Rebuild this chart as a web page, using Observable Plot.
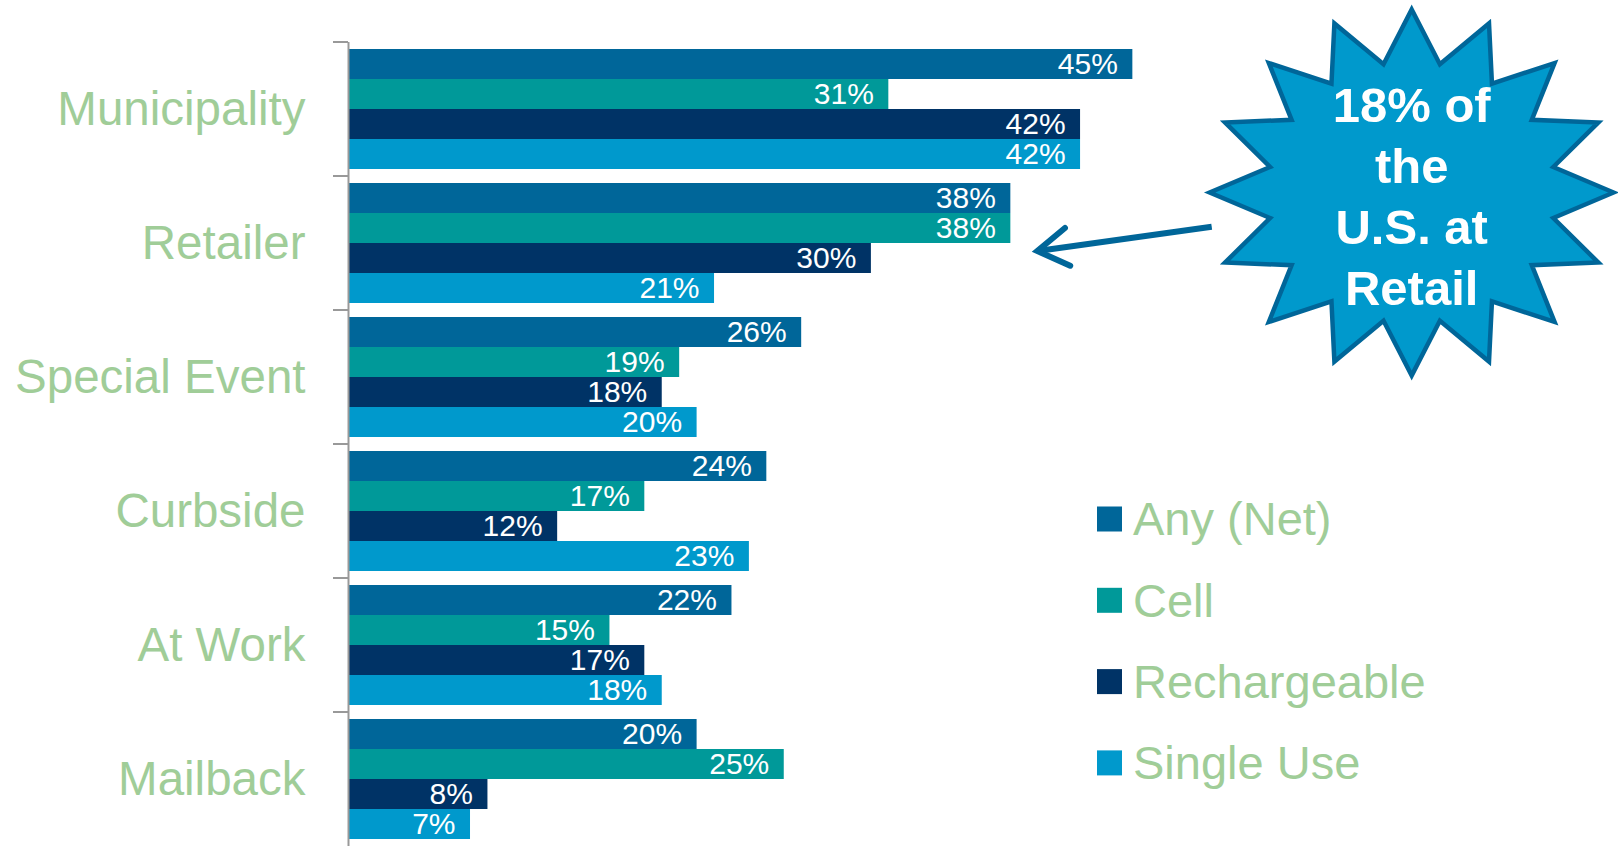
<!DOCTYPE html>
<html>
<head>
<meta charset="utf-8">
<script src="https://cdn.jsdelivr.net/npm/d3@7"></script>
<script src="https://cdn.jsdelivr.net/npm/@observablehq/plot@0.6"></script>
<style>
  html, body { margin: 0; padding: 0; background: #ffffff; overflow: hidden; }
  #chart svg { display: block; }
</style>
</head>
<body>
<div id="chart"></div>
<script>
// ---- data ----
const groups = ["Municipality", "Retailer", "Special Event", "Curbside", "At Work", "Mailback"];
const series = ["Any (Net)", "Cell", "Rechargeable", "Single Use"];
const anyNet = [45, 38, 26, 24, 22, 20];
const cell = [31, 38, 19, 17, 15, 25];
const rechargeable = [42, 30, 18, 12, 17, 8];
const singleUse = [42, 21, 20, 23, 18, 7];
const colors = ["#006699", "#009999", "#003366", "#0099cc"];
const calloutLines = ["18% of", "the", "U.S. at", "Retail"];
const calloutTarget = {group: "Retailer", value: 38};

const green = "#a0cd98";
const font = "'Liberation Sans', Arial, Helvetica, sans-serif";
const valuesBySeries = [anyNet, cell, rechargeable, singleUse];
const rows = groups.flatMap((g, i) => series.map((s, j) => ({group: g, series: s, value: valuesBySeries[j][i]})));

const W = 1618, H = 847;
const plot = Plot.plot({
  width: W,
  height: H,
  marginLeft: 348,
  marginRight: 398.5,
  marginTop: 41,
  marginBottom: 0,
  style: {fontFamily: font, background: "#ffffff", overflow: "visible"},
  x: {domain: [0, 50], axis: null},
  y: {domain: series, axis: null, paddingInner: 0, paddingOuter: 0.19},
  fy: {domain: groups, axis: null, padding: 0},
  color: {domain: series, range: colors},
  facet: {data: rows, y: "group"},
  marks: [
    Plot.barX(rows, {y: "series", x: "value", fill: "series"}),
    Plot.text(rows, {y: "series", x: "value", text: d => d.value + "%", textAnchor: "end", dx: -15, fill: "#ffffff", fontSize: 30}),
    Plot.text(rows, {filter: d => d.series === series[0], text: "group", frameAnchor: "left", textAnchor: "end", dx: -43, fontSize: 47.5, fill: green}),
    Plot.ruleX([0], {stroke: "#999999", strokeWidth: 2})
  ]
});
document.getElementById("chart").appendChild(plot);

const svg = d3.select(plot);
const xs = plot.scale("x");
let fyTop, fyBand;
const fys = plot.scale("fy");
if (fys && fys.apply) {
  fyTop = g => fys.apply(g);
  fyBand = fys.bandwidth;
} else {
  fyBand = (H - 41) / groups.length;
  fyTop = g => 41 + groups.indexOf(g) * fyBand;
}
const x0 = xs.apply(0);

// category boundary ticks on the axis
svg.append("g").selectAll("line").data(groups).join("line")
  .attr("x1", x0 - 15).attr("x2", x0)
  .attr("y1", d => fyTop(d)).attr("y2", d => fyTop(d))
  .attr("stroke", "#999999").attr("stroke-width", 2);

// legend
const lg = svg.append("g").attr("text-anchor", "start");
series.forEach((s, i) => {
  const cy = 519 + i * 81.3;
  lg.append("rect").attr("x", 1097).attr("y", cy - 12.5).attr("width", 25).attr("height", 25)
    .attr("fill", colors[i]);
  lg.append("text").attr("x", 1133).attr("y", cy).attr("dy", "0.35em").attr("text-anchor", "start")
    .attr("font-size", 47).attr("fill", green).attr("font-family", font).text(s);
});

// starburst callout
const cx = 1411.7, cy = 192.5, rx = 202, ry = 183, inner = 0.715, nPts = 16;
const pts = d3.range(nPts * 2).map(i => {
  const a = (-90 + i * 180 / nPts) * Math.PI / 180;
  const r = i % 2 === 0 ? 1 : inner;
  return [cx + rx * r * Math.cos(a), cy + ry * r * Math.sin(a)];
});
svg.append("polygon").attr("points", pts.map(p => p.join(",")).join(" "))
  .attr("fill", "#0099cc").attr("stroke", "#006699").attr("stroke-width", 4.5)
  .attr("stroke-linejoin", "miter").attr("stroke-miterlimit", 10);
const st = svg.append("g").attr("font-family", font).attr("font-weight", "bold")
  .attr("font-size", 49).attr("fill", "#ffffff").attr("text-anchor", "middle");
calloutLines.forEach((t, i) => {
  st.append("text").attr("x", cx).attr("y", cy + (i - 1.5) * 61 + 21).text(t);
});

// arrow from callout to the retailer bar
const tipX = xs.apply(calloutTarget.value) + 27;
const tipY = fyTop(calloutTarget.group) + fyBand * 0.56;
const tailX = 1211.7, tailY = 226.7;
const ang = Math.atan2(tailY - tipY, tailX - tipX);
const hl = 36, ha = 32 * Math.PI / 180;
const arrowColor = "#006699";
svg.append("line").attr("x1", tailX).attr("y1", tailY).attr("x2", tipX + 4 * Math.cos(ang)).attr("y2", tipY + 4 * Math.sin(ang))
  .attr("stroke", arrowColor).attr("stroke-width", 6);
svg.append("path")
  .attr("d", `M${tipX + hl * Math.cos(ang - ha)},${tipY + hl * Math.sin(ang - ha)}L${tipX},${tipY}L${tipX + hl * Math.cos(ang + ha)},${tipY + hl * Math.sin(ang + ha)}`)
  .attr("fill", "none").attr("stroke", arrowColor).attr("stroke-width", 6)
  .attr("stroke-linecap", "round").attr("stroke-linejoin", "miter");
</script>
</body>
</html>
